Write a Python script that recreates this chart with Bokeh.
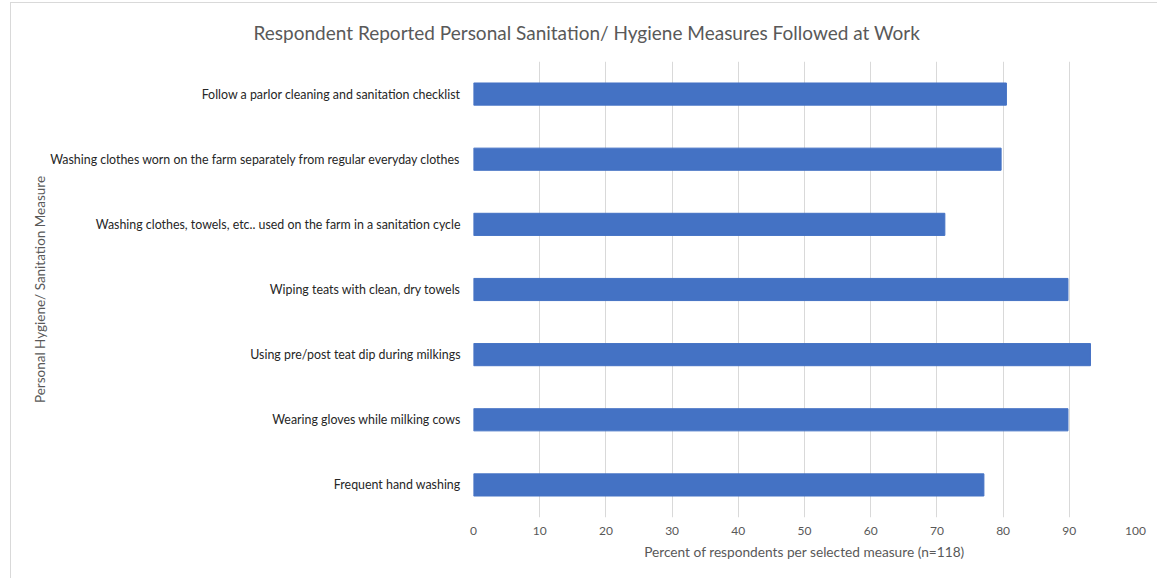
from bokeh.plotting import figure
from bokeh.models import FactorRange, Range1d, FixedTicker
from bokeh.embed import file_html
from bokeh.resources import INLINE

# ---- data (top to bottom as in the chart) ----
measures = [
    "Follow a parlor cleaning and sanitation checklist",
    "Washing clothes worn on the farm separately from regular everyday clothes",
    "Washing clothes, towels, etc.. used on the farm in a sanitation cycle",
    "Wiping teats with clean, dry towels",
    "Using pre/post teat dip during milkings",
    "Wearing gloves while milking cows",
    "Frequent hand washing",
]
percents = [80.5, 79.7, 71.2, 89.8, 93.2, 89.8, 77.1]
x_ticks = [0, 10, 20, 30, 40, 50, 60, 70, 80, 90, 100]

title_text = "Respondent Reported Personal Sanitation/ Hygiene Measures Followed at Work"
x_title = "Percent of respondents per selected measure (n=118)"
y_title = "Personal Hygiene/ Sanitation Measure"

FONT = "Lato"
W, H = 1157, 578
L, R, T, B = 473, 22, 60, 61

p = figure(
    width=W, height=H,
    y_range=FactorRange(factors=measures[::-1], range_padding=0),
    x_range=Range1d(0, 100),
    output_backend="svg", toolbar_location=None,
    min_border_left=L, min_border_right=R, min_border_top=T, min_border_bottom=B,
)
p.outline_line_color = None
p.background_fill_color = "white"
p.border_fill_color = None
p.styles = {
    "background": "linear-gradient(#D9D9D9,#D9D9D9) 10px 2px / 1px 100% no-repeat, "
                  "linear-gradient(#D9D9D9,#D9D9D9) 10px 2px / 100% 1px no-repeat, white",
}

p.hbar(y=measures, left=0, right=percents, height=0.34,
       fill_color="#4472C4", line_color="#4472C4")

# title
p.title.text = title_text
p.title.align = "left"
p.title.offset = 253 - L
p.title.vertical_align = "bottom"
p.title.standoff = 36
p.title.text_font = FONT
p.title.text_font_size = "19px"
p.title.text_font_style = "normal"
p.title.text_color = "#595959"

# grid
p.xgrid.ticker = FixedTicker(ticks=x_ticks)
p.xgrid.grid_line_color = "#D9D9D9"
p.xgrid.grid_line_width = 1
p.ygrid.grid_line_color = None

# x axis
p.xaxis.ticker = FixedTicker(ticks=x_ticks)
p.xaxis.axis_line_color = None
p.xaxis.major_tick_line_color = None
p.xaxis.minor_tick_line_color = None
p.xaxis.major_tick_out = 0
p.xaxis.major_label_standoff = 9
p.xaxis.major_label_text_font = FONT
p.xaxis.major_label_text_font_size = "12px"
p.xaxis.major_label_text_color = "#595959"
p.xaxis.axis_label = x_title
p.xaxis.axis_label_standoff = 5
p.xaxis.axis_label_text_font = FONT
p.xaxis.axis_label_text_font_size = "13.7px"
p.xaxis.axis_label_text_font_style = "normal"
p.xaxis.axis_label_text_color = "#595959"

# y axis
p.yaxis.axis_line_color = None
p.yaxis.major_tick_line_color = None
p.yaxis.major_tick_out = 0
p.yaxis.major_label_standoff = 13
p.yaxis.major_label_text_font = FONT
p.yaxis.major_label_text_font_size = "12.4px"
p.yaxis.major_label_text_color = "#262626"
p.yaxis.axis_label = y_title
p.yaxis.axis_label_standoff = -1
p.yaxis.axis_label_text_font = FONT
p.yaxis.axis_label_text_font_size = "13.5px"
p.yaxis.axis_label_text_font_style = "normal"
p.yaxis.axis_label_text_color = "#595959"

open("out.html", "w").write(file_html(p, INLINE))
